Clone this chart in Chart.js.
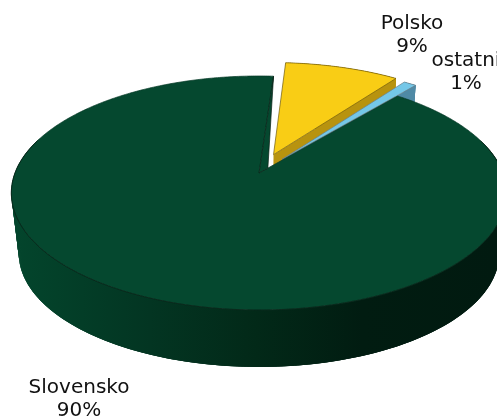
<!DOCTYPE html>
<html>
<head>
<meta charset="utf-8">
<title>Pie</title>
<script src="https://cdn.jsdelivr.net/npm/chart.js@4"></script>
<style>
    html, body { margin: 0; padding: 0; background: #fff; overflow: hidden; }
    canvas { display: block; }
</style>
</head>
<body>
<canvas id="pieChart" width="497" height="418"></canvas>
<script>
const regions = ['Slovensko', 'Polsko', 'ostatni'];
const shares = [90, 9, 1];
const explode = [0, 34, 30];

const topColors = ['#05482f', '#f9cd15', '#74c7e8'];
const wallColors = [null, '#b8930f', '#4f8aa6'];
const lineColors = ['#063a26', '#6e5a10', '#6b7f88'];

// text anchors, one per region
const labelSpots = [[79, 388], [412, 24], [466, 61]];

// projection of the pie plane onto the page (tilt with a little perspective)
const view = { cx: 259, cy: 173, rx: 244, ry: 113.6, persp: 0.171, depth: 61, shrink: 0.03 };

function project(u, v, z) {
    const f = 1 + view.persp * v;
    const s = 1 - view.shrink * z;
    return [view.cx + view.rx * u / f * s, view.cy - view.ry * v / f * s + view.depth * z];
}

function arcPoints(arc, z, sx, sy) {
    const pts = [];
    const steps = Math.max(4, Math.ceil((arc.endAngle - arc.startAngle) / 0.01));
    for (let i = 0; i <= steps; i++) {
        const a = arc.startAngle + (arc.endAngle - arc.startAngle) * i / steps;
        const p = project(sx + Math.cos(a), sy - Math.sin(a), z);
        p.front = Math.sin(a) > -0.3;
        pts.push(p);
    }
    return pts;
}

function tracePath(ctx, pts) {
    ctx.beginPath();
    pts.forEach((p, i) => i ? ctx.lineTo(p[0], p[1]) : ctx.moveTo(p[0], p[1]));
    ctx.closePath();
}

function sideGradient(ctx) {
    const g = ctx.createLinearGradient(15, 0, 497, 0);
    g.addColorStop(0, '#03452c');
    g.addColorStop(0.28, '#033522');
    g.addColorStop(0.5, '#022918');
    g.addColorStop(0.72, '#011c11');
    g.addColorStop(1, '#011a10');
    return g;
}

const pie3d = {
    id: 'pie3d',
    beforeDatasetDraw(chart, args) {
        const ctx = chart.ctx;
        const arcs = args.meta.data;

        // Back to front: small exploded slices first, the big one covers them
        [1, 2, 0].forEach(i => {
            const arc = arcs[i];
            const mid = (arc.startAngle + arc.endAngle) / 2;
            const d = arc.options.offset / arc.outerRadius;
            const sx = d * Math.cos(mid);
            const sy = -d * Math.sin(mid);
            const rim = arcPoints(arc, 0, sx, sy);
            const rimLow = arcPoints(arc, 1, sx, sy);

            // outer wall, overlapping quads so no seams show between them
            ctx.fillStyle = i === 0 ? sideGradient(ctx) : wallColors[i];
            for (let k = 0; k < rim.length - 1; k++) {
                if (i === 0 && !rim[k].front) continue;
                const n = Math.min(k + 3, rim.length - 1);
                tracePath(ctx, [rim[k], rim[n], rimLow[n], rimLow[k]]);
                ctx.fill();
            }

            // cut wall on the clockwise side
            if (i !== 0) {
                tracePath(ctx, [project(sx, sy, 0), rim[rim.length - 1], rimLow[rimLow.length - 1], project(sx, sy, 1)]);
                ctx.fill();
            }

            // top face
            tracePath(ctx, [project(sx, sy, 0)].concat(rim));
            ctx.fillStyle = arc.options.backgroundColor;
            ctx.fill();
            ctx.strokeStyle = lineColors[i];
            ctx.lineWidth = 0.7;
            ctx.stroke();

            if (i === 0) {
                // thin sliver at the notch of the big slice
                const a = arc.startAngle;
                const near = project(0.057 * Math.cos(a), -0.057 * Math.sin(a), 0);
                tracePath(ctx, [rim[rim.length - 1], project(sx, sy, 0), near]);
                ctx.fill();
                ctx.strokeStyle = '#0a1f16';
                ctx.stroke();

                // darker line where the top meets the front wall
                ctx.beginPath();
                rim.filter(p => p.front).forEach((p, k) => k ? ctx.lineTo(p[0], p[1]) : ctx.moveTo(p[0], p[1]));
                ctx.stroke();
            }
        });
        return false;
    },
    afterDatasetsDraw(chart) {
        const ctx = chart.ctx;
        ctx.save();
        ctx.font = '20px "DejaVu Sans"';
        ctx.fillStyle = '#111111';
        ctx.textAlign = 'center';
        ctx.textBaseline = 'middle';
        regions.forEach((name, i) => {
            ctx.fillText(name, labelSpots[i][0], labelSpots[i][1]);
            ctx.fillText(shares[i] + '%', labelSpots[i][0], labelSpots[i][1] + 23);
        });
        ctx.restore();
    }
};

new Chart(document.getElementById('pieChart').getContext('2d'), {
    type: 'pie',
    data: {
        labels: regions,
        datasets: [{
            data: shares,
            backgroundColor: topColors,
            offset: explode,
            borderWidth: 0
        }]
    },
    options: {
        responsive: false,
        animation: false,
        rotation: 40,
        plugins: {
            legend: { display: false },
            tooltip: { enabled: false }
        }
    },
    plugins: [pie3d]
});
</script>
</body>
</html>
